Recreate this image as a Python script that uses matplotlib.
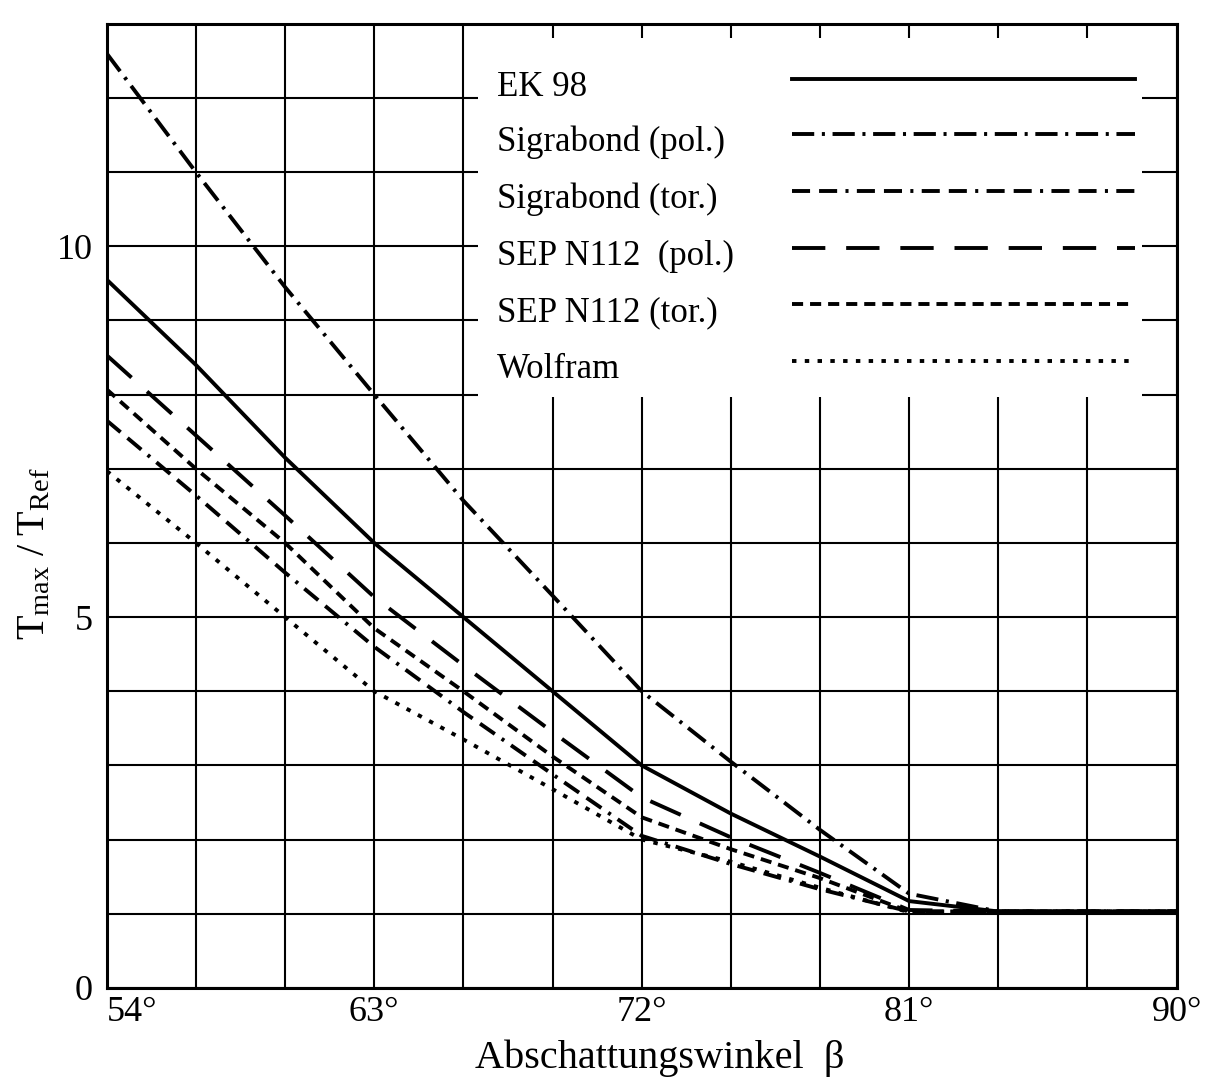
import matplotlib
matplotlib.use("Agg")
import matplotlib.pyplot as plt
from matplotlib.patches import Rectangle
from matplotlib.lines import Line2D

plt.rcParams['font.family'] = ['Liberation Serif', 'DejaVu Serif']
plt.rcParams['mathtext.fontset'] = 'custom'
plt.rcParams['mathtext.rm'] = 'Liberation Serif'
plt.rcParams['mathtext.it'] = 'Liberation Serif:italic'
plt.rcParams['lines.scale_dashes'] = False

# ---- data ----
angles = [54, 57, 60, 63, 66, 69, 72, 75, 78, 81, 84, 87, 90]
ek98 = [9.55, 8.4, 7.15, 6.0, 5.0, 4.0, 3.0, 2.35, 1.77, 1.17, 1.03, 1.03, 1.03]
sigra_pol = [12.6, 11.0, 9.45, 8.0, 6.57, 5.29, 4.0, 3.05, 2.13, 1.27, 1.03, 1.03, 1.03]
sigra_tor = [7.65, 6.64, 5.6, 4.6, 3.72, 2.88, 2.05, 1.67, 1.33, 1.03, 1.03, 1.03, 1.03]
sep_pol = [8.53, 7.45, 6.37, 5.27, 4.35, 3.45, 2.57, 2.03, 1.55, 1.05, 1.03, 1.03, 1.03]
sep_tor = [8.07, 7.0, 6.0, 4.85, 4.0, 3.12, 2.3, 1.87, 1.48, 1.03, 1.03, 1.03, 1.03]
wolfram = [6.97, 6.0, 5.0, 4.0, 3.35, 2.68, 2.0, 1.7, 1.35, 1.02, 1.03, 1.03, 1.03]

labels = ["EK 98", "Sigrabond (pol.)", "Sigrabond (tor.)",
          "SEP N112  (pol.)", "SEP N112 (tor.)", "Wolfram"]
series = [ek98, sigra_pol, sigra_tor, sep_pol, sep_tor, wolfram]
styles = ['-',
          (0, (16, 5.5, 2.2, 5.5)),
          (0, (13, 6.5, 13, 6, 2.2, 6)),
          (0, (24, 15)),
          (0, (8, 5)),
          (0, (3.2, 6))]

x_ticks = list(range(54, 91, 3))
x_ticklabels = ["54°", "", "", "63°", "", "", "72°", "", "", "81°", "", "", "90°"]
y_ticks = list(range(0, 14))
y_ticklabels = ["0", "", "", "", "", "5", "", "", "", "", "10", "", "", ""]

# ---- figure ----
fig = plt.figure(figsize=(12.13, 10.82), dpi=100)
ax = fig.add_axes([0.088, 0.087, 0.882, 0.891])
ax.set_xlim(54, 90)
ax.set_ylim(0, 13)
ax.set_xticks(x_ticks)
ax.set_xticklabels(x_ticklabels)
ax.set_yticks(y_ticks)
ax.set_yticklabels(y_ticklabels)
ax.tick_params(axis='both', length=0, labelsize=26)
ax.tick_params(axis='x', pad=6)
ax.tick_params(axis='y', pad=10)
xl = ax.get_xticklabels()
xl[0].set_horizontalalignment('left')
ax.set_axisbelow(True)
ax.grid(True, color='black', linewidth=1.5)
for s in ax.spines.values():
    s.set_linewidth(2.2)

for ys, ls, lab in zip(series, styles, labels):
    ax.plot(angles, ys, color='black', linewidth=2.8, linestyle=ls,
            label=lab, zorder=3)

# legend panel (white box covering the grid)
def fy(px):
    return (988 - px) / 964.0

def fx(px):
    return (px - 107) / 1070.0

ax.add_patch(Rectangle((fx(478), fy(397)), fx(1142) - fx(478), fy(38) - fy(397),
                       transform=ax.transAxes, facecolor='white',
                       edgecolor='none', zorder=1))
baselines = [96, 151, 208, 265, 321, 378]
for lab, ls, b in zip(labels, styles, baselines):
    ax.text(fx(497), fy(b), lab, transform=ax.transAxes, fontsize=25,
            ha='left', va='baseline', zorder=4)
    ax.add_line(Line2D([fx(792), fx(1135)], [fy(b - 17), fy(b - 17)],
                       transform=ax.transAxes, color='black', linewidth=2.8,
                       linestyle=ls, zorder=4))

ax.set_xlabel("Abschattungswinkel  β", fontsize=29)
ax.xaxis.set_label_coords(0.517, -0.054)
ax.set_ylabel(r"$\mathrm{T_{max}\ /\ T_{Ref}}$", fontsize=29)
ax.yaxis.set_label_coords(-0.05, 0.45)

fig.savefig("out.png", dpi=100)
